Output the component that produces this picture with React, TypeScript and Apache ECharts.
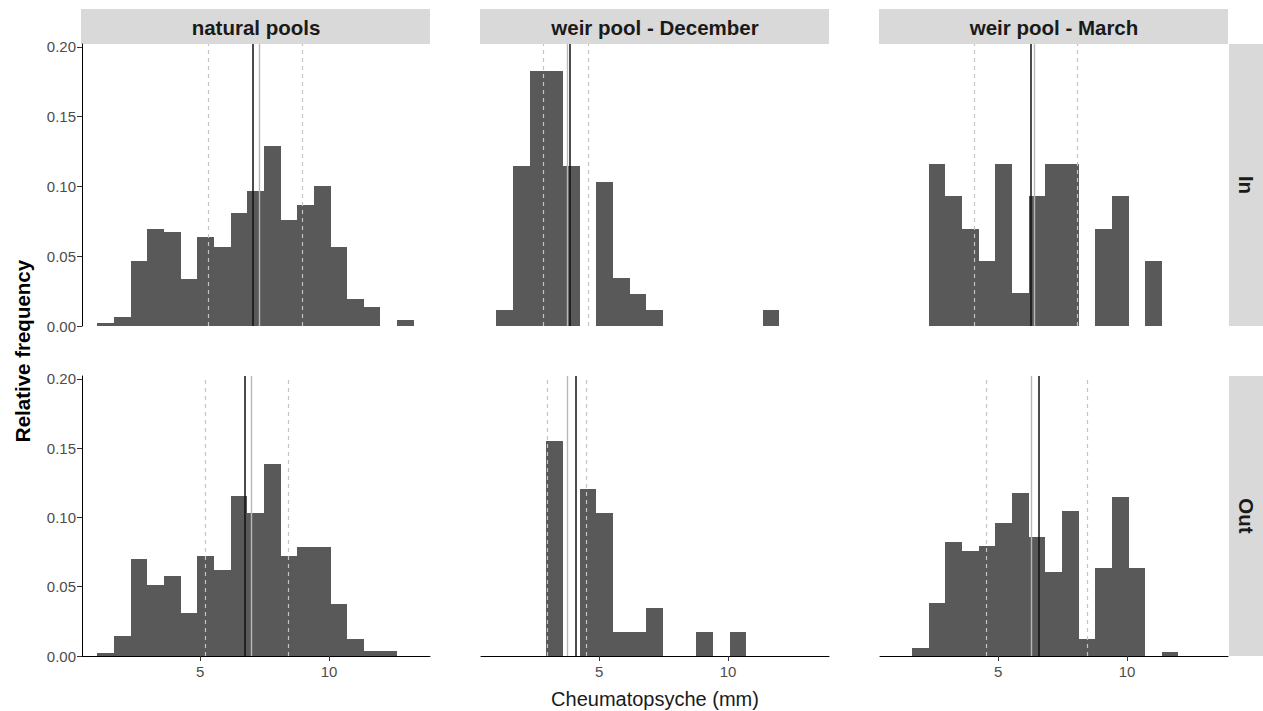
import React, { useEffect, useRef } from "react";
import * as echarts from "echarts";

// Histogram bins shared by all facets (mm)
const binStart = 1.025;
const binWidth = 0.645;

// Facet labels
const columnLabels = ["natural pools", "weir pool - December", "weir pool - March"];
const rowLabels = ["In", "Out"];

// Relative frequency per bin (19 bins), one array per facet
const naturalIn = [0.0024, 0.0062, 0.0468, 0.0693, 0.0676, 0.0335, 0.0636, 0.0564, 0.0808, 0.0968, 0.129, 0.076, 0.0865, 0.1006, 0.0564, 0.0196, 0.0138, 0, 0.0043];
const decemberIn = [0.0115, 0.1147, 0.183, 0.183, 0.1147, 0, 0.1035, 0.0345, 0.023, 0.0115, 0, 0, 0, 0, 0, 0, 0.0115, 0, 0];
const marchIn = [0, 0, 0.1163, 0.093, 0.0698, 0.0465, 0.1163, 0.0233, 0.093, 0.1163, 0.1163, 0, 0.0698, 0.093, 0, 0.0465, 0, 0, 0];
const naturalOut = [0.0019, 0.0144, 0.0703, 0.0513, 0.058, 0.0307, 0.0719, 0.0619, 0.1156, 0.1031, 0.1383, 0.0719, 0.0786, 0.0786, 0.0372, 0.0125, 0.0038, 0.0038, 0];
const decemberOut = [0, 0, 0, 0.1552, 0, 0.1207, 0.1034, 0.0172, 0.0172, 0.0345, 0, 0, 0.0172, 0, 0.0172, 0, 0, 0, 0];
const marchOut = [0, 0.0055, 0.0379, 0.0822, 0.0758, 0.0794, 0.0957, 0.1175, 0.0859, 0.0609, 0.105, 0.0122, 0.0635, 0.1149, 0.0635, 0, 0.0027, 0, 0];

// Summary lines per facet: lower / upper quartile (dashed), median (grey), mean (black)
const quartilesLow = [5.3, 2.85, 4.07, 5.2, 3.0, 4.53];
const quartilesHigh = [8.97, 4.6, 8.05, 8.43, 4.49, 8.45];
const medians = [7.29, 3.78, 6.42, 6.98, 3.78, 6.3];
const means = [7.03, 3.86, 6.28, 6.75, 4.08, 6.58];

// Axis ticks
const xTicks = [5, 10];
const yTicks = [0, 0.05, 0.1, 0.15, 0.2];

const panels = [naturalIn, decemberIn, marchIn, naturalOut, decemberOut, marchOut];

const FONT = "'Liberation Sans', Arial, sans-serif";
const colLeft = [82, 481, 880];
const panelWidth = 348;
const rowTop = [44, 376];
const rowHeight = [282, 280];
const xMin = 0.427;
const xMax = 13.908;
const yMax = 0.2021;

export default function App() {
  const ref = useRef<HTMLDivElement>(null);

  useEffect(() => {
    if (!ref.current) return;
    const chart = echarts.init(ref.current, null, { renderer: "svg" });

    const grids: any[] = [];
    const xAxes: any[] = [];
    const yAxes: any[] = [];
    const series: any[] = [];

    panels.forEach((values, i) => {
      const row = Math.floor(i / 3);
      const col = i % 3;
      grids.push({
        left: colLeft[col],
        top: rowTop[row],
        width: panelWidth,
        height: rowHeight[row],
        containLabel: false,
      });
      const bottom = row === 1;
      xAxes.push({
        type: "value",
        gridIndex: i,
        min: xMin,
        max: xMax,
        splitLine: { show: false },
        axisLine: { show: bottom, onZero: false, lineStyle: { color: "#000", width: 1 } },
        axisTick: { show: bottom, customValues: xTicks, length: 5, lineStyle: { color: "#333", width: 1 } },
        axisLabel: {
          show: bottom,
          customValues: xTicks,
          fontSize: 15,
          color: "#4D4D4D",
          fontFamily: FONT,
          margin: 8,
        },
      });
      const left = col === 0;
      yAxes.push({
        type: "value",
        gridIndex: i,
        min: 0,
        max: yMax,
        splitLine: { show: false },
        axisLine: { show: left, onZero: false, lineStyle: { color: "#000", width: 1 } },
        axisTick: { show: left, customValues: yTicks, length: 5, lineStyle: { color: "#333", width: 1 } },
        axisLabel: {
          show: left,
          customValues: yTicks,
          formatter: (v: number) => v.toFixed(2),
          fontSize: 15,
          color: "#4D4D4D",
          fontFamily: FONT,
          margin: 6,
        },
      });

      const data = values
        .map((v, k) => [binStart + k * binWidth, binStart + (k + 1) * binWidth, v])
        .filter((d) => d[2] > 0);

      series.push({
        type: "custom",
        xAxisIndex: i,
        yAxisIndex: i,
        data,
        encode: { x: [0, 1], y: 2 },
        renderItem: (params: any, api: any) => {
          const p0 = api.coord([api.value(0), api.value(2)]);
          const p1 = api.coord([api.value(1), 0]);
          // snap edges to whole pixels so neighbouring bins join without seams
          const x0 = Math.round(p0[0]);
          const x1 = Math.round(p1[0]);
          const y0 = Math.round(p0[1]);
          const y1 = Math.round(p1[1]);
          return {
            type: "rect",
            shape: { x: x0, y: y0, width: x1 - x0, height: y1 - y0 },
            style: { fill: "#595959" },
          };
        },
        markLine: {
          silent: true,
          symbol: "none",
          label: { show: false },
          data: [
            { xAxis: quartilesLow[i], lineStyle: { color: "#C4C4C4", width: 1.2, type: [4, 4] } },
            { xAxis: quartilesHigh[i], lineStyle: { color: "#C4C4C4", width: 1.2, type: [4, 4] } },
            { xAxis: medians[i], lineStyle: { color: "#B8B8B8", width: 1.4, type: "solid" } },
            { xAxis: means[i], lineStyle: { color: "#111", width: 1.5, type: "solid" } },
          ],
        },
      });
    });

    const graphics: any[] = [];
    columnLabels.forEach((label, c) => {
      graphics.push({
        type: "rect",
        shape: { x: colLeft[c] - 1, y: 9, width: panelWidth + 1, height: 35 },
        style: { fill: "#D9D9D9" },
      });
      graphics.push({
        type: "text",
        x: colLeft[c] + panelWidth / 2,
        y: 27,
        style: {
          text: label,
          fontSize: 20.5,
          fontWeight: "bold",
          fontFamily: FONT,
          fill: "#1A1A1A",
          align: "center",
          verticalAlign: "middle",
        },
      });
    });
    rowLabels.forEach((label, r) => {
      graphics.push({
        type: "rect",
        shape: { x: 1229, y: rowTop[r], width: 34, height: rowHeight[r] },
        style: { fill: "#D9D9D9" },
      });
      graphics.push({
        type: "text",
        x: 1246,
        y: rowTop[r] + rowHeight[r] / 2,
        rotation: -Math.PI / 2,
        style: {
          text: label,
          fontSize: 20.5,
          fontWeight: "bold",
          fontFamily: FONT,
          fill: "#1A1A1A",
          align: "center",
          verticalAlign: "middle",
        },
      });
    });
    graphics.push({
      type: "text",
      x: 22,
      y: 351,
      rotation: Math.PI / 2,
      style: {
        text: "Relative frequency",
        fontSize: 20.5,
        fontWeight: "bold",
        fontFamily: FONT,
        fill: "#000",
        align: "center",
        verticalAlign: "middle",
      },
    });
    graphics.push({
      type: "text",
      x: 655,
      y: 699,
      style: {
        text: "Cheumatopsyche (mm)",
        fontSize: 20,
        fontFamily: FONT,
        fill: "#1A1A1A",
        align: "center",
        verticalAlign: "middle",
      },
    });

    chart.setOption({
      animation: false,
      backgroundColor: "#fff",
      grid: grids,
      xAxis: xAxes,
      yAxis: yAxes,
      series,
      graphic: graphics,
    });

    return () => chart.dispose();
  }, []);

  return (
    <div
      ref={ref}
      style={{ position: "fixed", left: 0, top: 0, width: 1263, height: 711 }}
    />
  );
}
